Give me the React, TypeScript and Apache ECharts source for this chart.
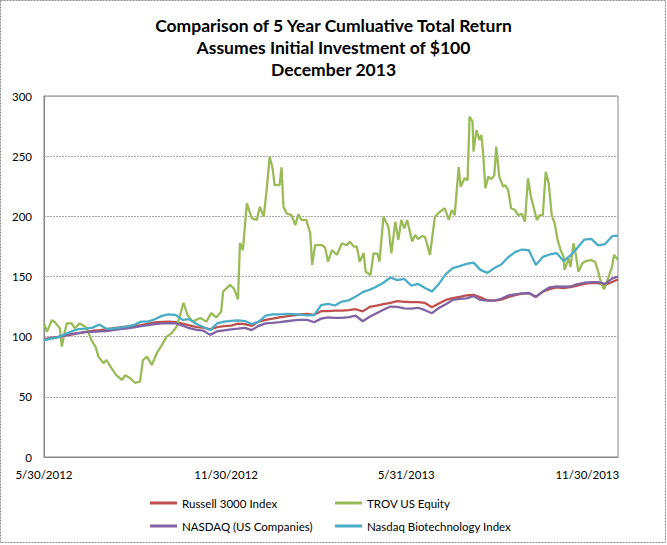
import React, { useEffect, useRef } from "react";
import * as echarts from "echarts";

const titleLines = [
  "Comparison of 5 Year Cumluative Total Return",
  "Assumes Initial Investment of $100",
  "December 2013",
];

const seriesNames = [
  "Russell 3000 Index",
  "TROV US Equity",
  "NASDAQ (US Companies)",
  "Nasdaq Biotechnology Index",
];

const xTickDates = ["2012-05-30", "2012-11-30", "2013-05-31", "2013-11-30"];

const weeklyDates = [
  "2012-05-30", "2012-06-06", "2012-06-13", "2012-06-20", "2012-06-27", "2012-07-04", "2012-07-11",
  "2012-07-18", "2012-07-25", "2012-08-01", "2012-08-08", "2012-08-15", "2012-08-22", "2012-08-29",
  "2012-09-05", "2012-09-12", "2012-09-19", "2012-09-26", "2012-10-03", "2012-10-10", "2012-10-17",
  "2012-10-24", "2012-10-31", "2012-11-07", "2012-11-14", "2012-11-21", "2012-11-28", "2012-12-05",
  "2012-12-12", "2012-12-19", "2012-12-26", "2013-01-02", "2013-01-09", "2013-01-16", "2013-01-23",
  "2013-01-30", "2013-02-06", "2013-02-13", "2013-02-20", "2013-02-27", "2013-03-06", "2013-03-13",
  "2013-03-20", "2013-03-27", "2013-04-03", "2013-04-10", "2013-04-17", "2013-04-24", "2013-05-01",
  "2013-05-08", "2013-05-15", "2013-05-22", "2013-05-29", "2013-06-05", "2013-06-12", "2013-06-19",
  "2013-06-26", "2013-07-03", "2013-07-10", "2013-07-17", "2013-07-24", "2013-07-31", "2013-08-07",
  "2013-08-14", "2013-08-21", "2013-08-28", "2013-09-04", "2013-09-11", "2013-09-18", "2013-09-25",
  "2013-10-02", "2013-10-09", "2013-10-16", "2013-10-23", "2013-10-30", "2013-11-06", "2013-11-13",
  "2013-11-20", "2013-11-27", "2013-12-04", "2013-12-11", "2013-12-18", "2013-12-25", "2013-12-31",
];

const russell3000 = [
  98, 99, 99.8, 100.8, 101.8, 103, 104, 104.9, 105.4, 106, 107, 107.7, 108.3, 108.8,
  109.5, 110.7, 111.8, 112.2, 112.5, 112, 110.8, 109.4, 108, 107.5, 106, 108, 108.8, 109.2,
  110.8, 110.5, 109, 112.5, 114, 115, 116, 116.8, 117.8, 118.5, 119, 118.2, 121.2, 121.2,
  121.7, 121.7, 122, 122.8, 121, 124.7, 125.7, 127, 128, 129.6, 129, 128.7, 128.7, 128,
  124.5, 127.5, 130.5, 132, 133, 134.3, 134.8, 132.6, 130.3, 130, 130.8, 132.8, 134.5, 135.8,
  136.2, 133, 137.5, 139.5, 141, 140.4, 141.2, 142.5, 143.8, 144.8, 144.5, 143, 145.4, 147.5,
];

const nasdaqUS = [
  97.5, 98.5, 99.6, 100.8, 102.3, 103, 103.7, 104.1, 104.4, 104.7, 105.5, 106.3, 107, 107.8,
  108.7, 109.6, 110.5, 111, 111.2, 111, 109.2, 107, 105.7, 105, 101.5, 104.5, 105.3, 106,
  106.6, 107.3, 105.5, 109, 111, 111.4, 112, 112.8, 113.6, 114, 114, 112, 115, 116,
  115.6, 115.6, 116.2, 117.4, 112.8, 116.5, 119.5, 122.3, 125, 124.8, 123.5, 123.3, 124, 122,
  119.5, 123.8, 127, 130.5, 131.4, 131.8, 133.7, 130.5, 130, 130, 131.5, 134.2, 135.2, 135.9,
  136.3, 133, 137.5, 141, 141.8, 141.5, 141.7, 143.7, 144.8, 145.3, 145.3, 143.9, 148.2, 150,
];

const nasdaqBiotech = [
  97, 98.3, 99.5, 102, 104.5, 106.3, 106.6, 107.5, 110, 106.6, 106.6, 107.5, 108.5, 109.8,
  112.5, 112.5, 114.5, 117.3, 118.5, 118, 114, 114.5, 110.5, 108, 105.5, 111, 112.5, 113.2,
  113.6, 113, 110.5, 112.5, 117.5, 118.6, 118.6, 119, 118.8, 118.4, 117.7, 118, 126.2, 127.2,
  125.9, 129.2, 130.2, 133.3, 137, 139, 141.6, 144.8, 149.2, 147, 148, 142.5, 143.8, 140.5,
  137.5, 143.8, 152, 157, 158.7, 160.5, 161.5, 155.5, 153, 157, 160, 166, 170.2, 172.4,
  171.8, 159.5, 166.3, 168.3, 169.5, 162.8, 167.5, 173.8, 180.7, 181.3, 175.8, 177, 183.5, 184,
];

const trovDates = [
  "2012-05-30", "2012-06-02", "2012-06-07", "2012-06-10", "2012-06-15", "2012-06-17", "2012-06-20",
  "2012-06-22", "2012-06-27", "2012-06-30", "2012-07-05", "2012-07-09", "2012-07-12", "2012-07-17",
  "2012-07-21", "2012-07-24", "2012-07-29", "2012-08-01", "2012-08-06", "2012-08-11", "2012-08-17",
  "2012-08-20", "2012-08-25", "2012-08-30", "2012-09-04", "2012-09-07", "2012-09-11", "2012-09-16",
  "2012-09-21", "2012-09-26", "2012-10-01", "2012-10-06", "2012-10-11", "2012-10-14", "2012-10-18",
  "2012-10-22", "2012-10-27", "2012-11-04", "2012-11-10", "2012-11-15", "2012-11-20", "2012-11-25",
  "2012-11-27", "2012-12-04", "2012-12-08", "2012-12-12", "2012-12-14", "2012-12-17", "2012-12-21",
  "2012-12-26", "2012-12-31", "2013-01-03", "2013-01-07", "2013-01-10", "2013-01-13", "2013-01-16",
  "2013-01-18", "2013-01-23", "2013-01-25", "2013-01-27", "2013-01-30", "2013-02-04", "2013-02-08",
  "2013-02-11", "2013-02-14", "2013-02-19", "2013-02-23", "2013-02-25", "2013-02-28", "2013-03-07",
  "2013-03-10", "2013-03-13", "2013-03-17", "2013-03-22", "2013-03-27", "2013-04-01", "2013-04-04",
  "2013-04-08", "2013-04-11", "2013-04-14", "2013-04-18", "2013-04-20", "2013-04-25", "2013-04-28",
  "2013-05-02", "2013-05-04", "2013-05-08", "2013-05-13", "2013-05-16", "2013-05-20", "2013-05-23",
  "2013-05-26", "2013-05-29", "2013-06-01", "2013-06-06", "2013-06-09", "2013-06-12", "2013-06-16",
  "2013-06-19", "2013-06-24", "2013-06-29", "2013-07-04", "2013-07-09", "2013-07-13", "2013-07-16",
  "2013-07-19", "2013-07-23", "2013-07-25", "2013-07-29", "2013-08-01", "2013-08-03", "2013-08-06",
  "2013-08-07", "2013-08-10", "2013-08-13", "2013-08-15", "2013-08-17", "2013-08-19", "2013-08-22",
  "2013-08-25", "2013-08-28", "2013-08-30", "2013-09-02", "2013-09-06", "2013-09-08", "2013-09-11",
  "2013-09-14", "2013-09-18", "2013-09-21", "2013-09-25", "2013-09-28", "2013-10-01", "2013-10-04",
  "2013-10-07", "2013-10-10", "2013-10-13", "2013-10-16", "2013-10-19", "2013-10-22", "2013-10-25",
  "2013-10-28", "2013-10-31", "2013-11-03", "2013-11-06", "2013-11-07", "2013-11-11", "2013-11-13",
  "2013-11-16", "2013-11-18", "2013-11-21", "2013-11-25", "2013-11-29", "2013-12-04", "2013-12-08",
  "2013-12-11", "2013-12-14", "2013-12-17", "2013-12-21", "2013-12-25", "2013-12-27", "2013-12-31",
];

const trovEquity = [
  111, 104, 113.8, 112, 107, 91.8, 104,
  111, 111, 107, 111, 109, 107.5, 97,
  91.8, 83.4, 78, 80.6, 74, 68, 64,
  68, 65.6, 61.7, 62.6, 80.6, 83.4, 76.5,
  86.4, 93, 100, 103, 108.3, 116.6, 128.2,
  118, 112.5, 115.5, 112.5, 119.6, 116, 120.8,
  137.4, 143, 140, 131, 177.8, 172, 210.8,
  198.4, 197, 208, 199.7, 221.9, 249.6, 240,
  226, 226, 240.7, 208, 202.5, 201, 192.8,
  202, 197, 197, 186, 159.6, 176, 176,
  174, 162.3, 172, 168, 177.6, 176, 179,
  174.8, 175, 162.3, 169.5, 154, 151.3, 169.3,
  169, 162.3, 199.7, 191.4, 169.3, 195.5, 180.3,
  197, 190, 197, 179, 184.5, 181, 183.5,
  183, 168, 199.7, 203.8, 206.7, 197, 205.3,
  201, 241, 224.6, 231.6, 230, 282.8, 279,
  253.7, 271.7, 263.4, 267.6, 249.6, 223.3, 233,
  231, 234, 257.9, 233, 224.6, 226, 221.9,
  206.7, 205.3, 201, 202, 195.5, 231.6, 216.3,
  206.7, 197, 201, 201, 237, 227.4, 201,
  194.2, 180.3, 172, 166.5, 155.4, 165, 158,
  177.6, 170, 154, 161, 163, 163.7, 162,
  154, 144.3, 139.4, 148.5, 158.2, 167.9, 163.7,
];

const colors = ["#C0504D", "#9BBB59", "#8064A2", "#4BACC6"];

function toTs(s: string): number {
  const [y, m, d] = s.split("-").map(Number);
  return Date.UTC(y, m - 1, d);
}

function fmtDate(v: number): string {
  const dt = new Date(v);
  return `${dt.getUTCMonth() + 1}/${dt.getUTCDate()}/${dt.getUTCFullYear()}`;
}

const FONT = "Lato, 'Liberation Sans', sans-serif";

export default function App() {
  const ref = useRef<HTMLDivElement>(null);

  useEffect(() => {
    if (!ref.current) return;
    const chart = echarts.init(ref.current, undefined, { renderer: "svg" });

    const pair = (ds: string[], vs: number[]) => ds.map((d, i) => [toTs(d), vs[i]]);
    const seriesData = [
      pair(weeklyDates, russell3000),
      pair(trovDates, trovEquity),
      pair(weeklyDates, nasdaqUS),
      pair(weeklyDates, nasdaqBiotech),
    ];

    const legendPos = [
      { left: 150, top: 497 },
      { left: 335, top: 497 },
      { left: 150, top: 520 },
      { left: 335, top: 520 },
    ];

    chart.setOption({
      animation: false,
      textStyle: { fontFamily: FONT },
      title: {
        text: titleLines.join("\n"),
        left: "center",
        top: 9,
        textStyle: {
          fontFamily: FONT,
          fontSize: 17.5,
          fontWeight: "bold",
          lineHeight: 22,
          color: "#000",
        },
      },
      graphic: [
        {
          type: "rect",
          shape: { x: 0.5, y: 0.5, width: 665, height: 542 },
          style: { fill: "none", stroke: "#8a8a8a", lineWidth: 1, lineDash: [2, 1] },
          silent: true,
        },
      ],
      legend: seriesNames.map((name, i) => ({
        data: [name],
        left: legendPos[i].left,
        top: legendPos[i].top,
        padding: 0,
        icon: "rect",
        itemWidth: 27,
        itemHeight: 3,
        textStyle: { fontFamily: FONT, fontSize: 11.5, color: "#000" },
        selectedMode: false,
      })),
      grid: {
        left: 44,
        right: 49,
        top: 96,
        bottom: 88,
        show: true,
        borderColor: "#868686",
        borderWidth: 1,
        containLabel: false,
      },
      xAxis: {
        type: "value",
        min: toTs("2012-05-30"),
        max: toTs("2013-12-31"),
        axisLine: { show: true, lineStyle: { color: "#868686" } },
        axisTick: { show: false },
        splitLine: { show: false },
        axisLabel: {
          customValues: xTickDates.map(toTs),
          formatter: (v: number) => fmtDate(v),
          fontFamily: FONT,
          fontSize: 11.5,
          color: "#000",
          margin: 11,
        },
      },
      yAxis: {
        type: "value",
        min: 0,
        max: 300,
        interval: 50,
        axisLine: { show: true, lineStyle: { color: "#868686" } },
        axisTick: { show: false },
        splitLine: { show: true, lineStyle: { color: "#a6a6a6", type: [2, 1] } },
        axisLabel: { fontFamily: FONT, fontSize: 11.5, color: "#000", margin: 12 },
      },
      series: seriesNames.map((name, i) => ({
        name,
        type: "line",
        data: seriesData[i],
        showSymbol: false,
        symbol: "none",
        color: colors[i],
        lineStyle: { color: colors[i], width: 2.3 },
        itemStyle: { color: colors[i] },
      })),
    });

    return () => chart.dispose();
  }, []);

  return (
    <div
      ref={ref}
      style={{ position: "fixed", left: 0, top: 0, width: 667, height: 545, background: "#fff" }}
    />
  );
}
